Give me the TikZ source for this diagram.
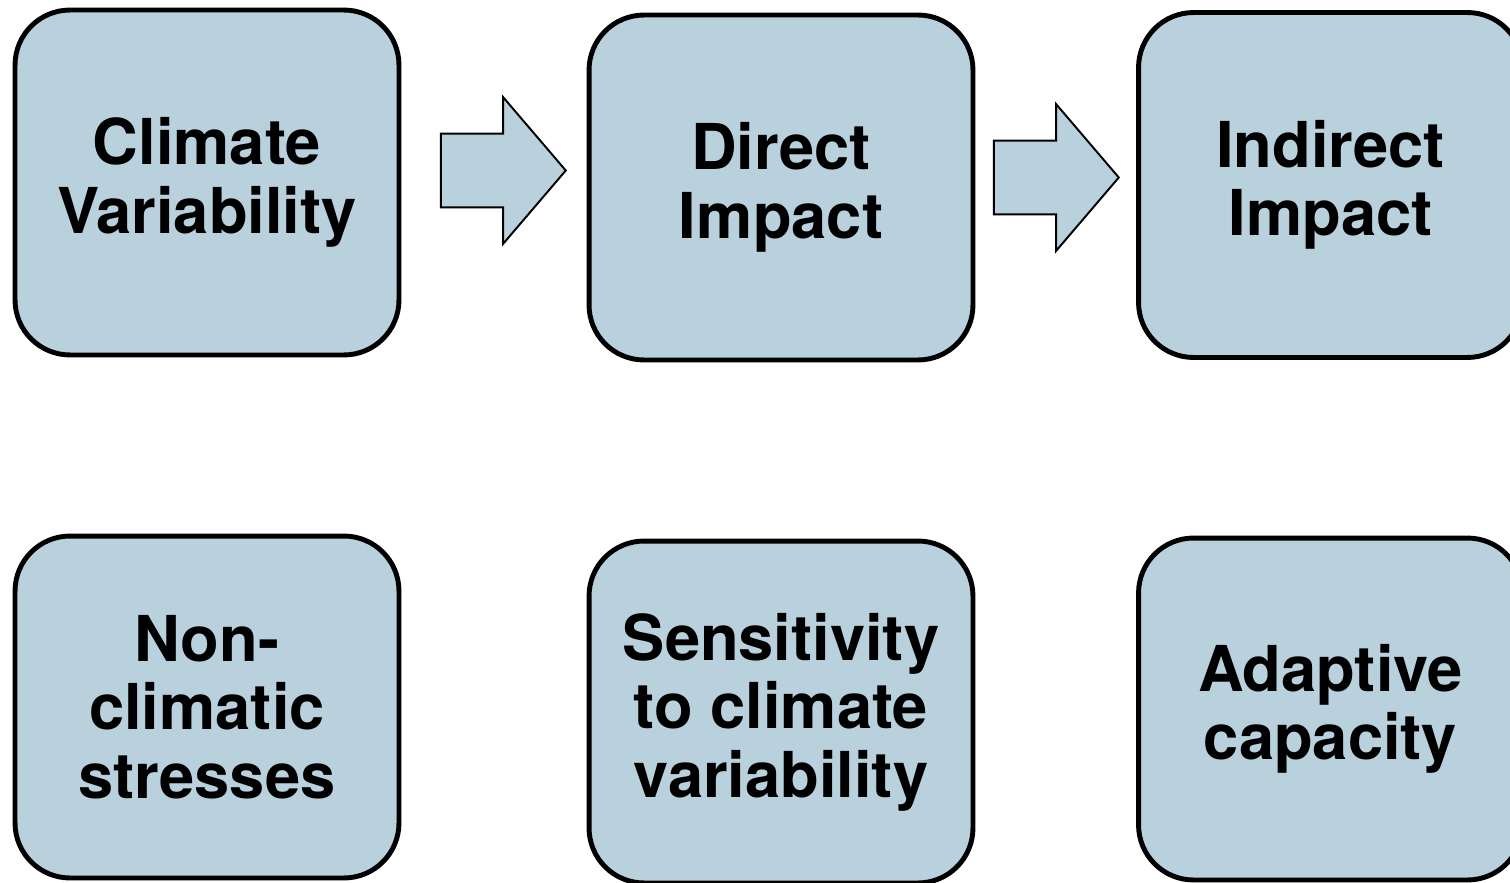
\documentclass[tikz,border=0pt]{standalone}
\usepackage{fontspec}
\setmainfont{TeX Gyre Heros}
\usetikzlibrary{shapes.arrows}
\definecolor{boxblue}{HTML}{B9D1DC}
\tikzstyle{box}=[rectangle, rounded corners=1.1cm, draw=black, line width=2.8pt, fill=boxblue, minimum width=7.68cm, minimum height=6.9cm, align=center, inner sep=0pt, font=\bfseries\fontsize{36}{39}\selectfont]
\tikzstyle{lowbox}=[box, minimum height=6.84cm]
\tikzstyle{blockarrow}=[single arrow, draw=black, line width=1.1pt, fill=boxblue, inner xsep=0pt, inner ysep=0.72cm, minimum height=2.5cm, single arrow head extend=0.73cm, single arrow tip angle=99]

\begin{document}
\begin{tikzpicture}[x=0.02cm, y=-0.02cm]
				\useasboundingbox (0,0) rectangle (1510,882);
				
				%The top row
				\draw (207,182.5) node[box] (climate) {Climate\\Variability};
				\draw (781,187.5) node[box] (direct) {Direct\\Impact};
				\draw (1330.5,185) node[box] (indirect) {Indirect\\Impact};
				
				%The block arrows
				\draw (487.5,170.5) node[blockarrow] (arr1) {};
				\draw (1040.5,177.5) node[blockarrow] (arr2) {};
				
				%The bottom row
				\draw (207,707) node[lowbox] (stress) {Non-\\climatic\\stresses};
				\draw (781,712) node[lowbox] (sens) {Sensitivity\\to climate\\variability};
				\draw (1330.5,709) node[lowbox] (adapt) {Adaptive\\capacity};
			\end{tikzpicture}
\end{document}
